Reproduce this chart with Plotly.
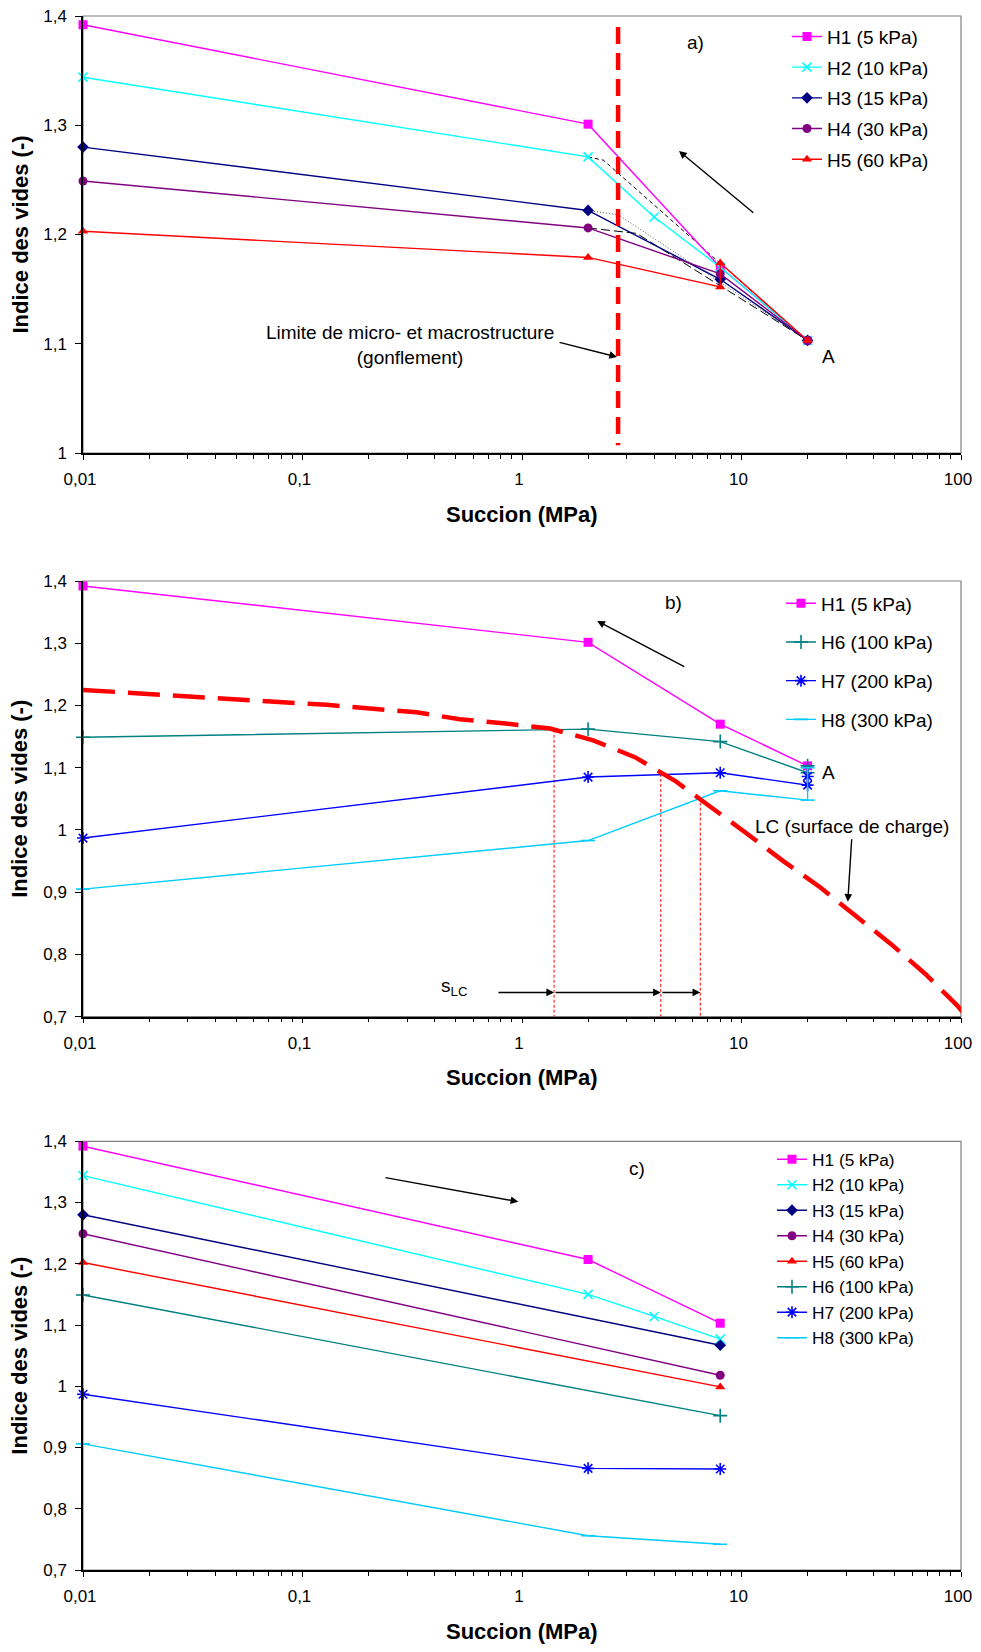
import numpy as np
import plotly.graph_objects as go

# ---------------- data ----------------
X_TICKS = [0.01, 0.1, 1, 10, 100]
X_TICK_LABELS = ["0,01", "0,1", "1", "10", "100"]
X_MINOR = [m * 10.0 ** e for e in range(-2, 2) for m in range(2, 10)]
Y_TICKS_A = [1.0, 1.1, 1.2, 1.3, 1.4]
Y_LABELS_A = ["1", "1,1", "1,2", "1,3", "1,4"]
Y_TICKS_BC = [0.7, 0.8, 0.9, 1.0, 1.1, 1.2, 1.3, 1.4]
Y_LABELS_BC = ["0,7", "0,8", "0,9", "1", "1,1", "1,2", "1,3", "1,4"]

NAMES = {
    "H1": "H1 (5 kPa)", "H2": "H2 (10 kPa)", "H3": "H3 (15 kPa)", "H4": "H4 (30 kPa)",
    "H5": "H5 (60 kPa)", "H6": "H6 (100 kPa)", "H7": "H7 (200 kPa)", "H8": "H8 (300 kPa)",
}

# panel a) wetting from point A
A_H1_x = [0.01, 2, 8, 20]
A_H1_y = [1.392, 1.301, 1.170, 1.103]
A_H2_x = [0.01, 2, 4, 8, 20]
A_H2_y = [1.344, 1.271, 1.216, 1.170, 1.103]
A_H3_x = [0.01, 2, 8, 20]
A_H3_y = [1.280, 1.222, 1.159, 1.103]
A_H4_x = [0.01, 2, 8, 20]
A_H4_y = [1.249, 1.206, 1.164, 1.103]
A_H5_x = [0.01, 2, 8, 8, 20]
A_H5_y = [1.203, 1.179, 1.152, 1.174, 1.103]
# auxiliary black guide paths (panel a)
GUIDE_SHORT_x = [2, 2.35, 20]
GUIDE_SHORT_y = [1.271, 1.268, 1.103]
GUIDE_DOT_x = [2, 2.75, 20]
GUIDE_DOT_y = [1.222, 1.218, 1.103]
GUIDE_LONG_x = [2, 3.33, 20]
GUIDE_LONG_y = [1.206, 1.201, 1.103]
# micro / macro limit
LIMIT_x = [2.74, 2.74]
LIMIT_y = [1.39, 1.007]

# panel b)
B_H1_x = [0.01, 2, 8, 20]
B_H1_y = [1.392, 1.3015, 1.170, 1.103]
B_H6_x = [0.01, 2, 8, 20, 20]
B_H6_y = [1.149, 1.162, 1.142, 1.092, 1.103]
B_H7_x = [0.01, 2, 8, 20, 20]
B_H7_y = [0.987, 1.085, 1.092, 1.072, 1.086]
B_H8_x = [0.01, 2, 8, 20, 20]
B_H8_y = [0.905, 0.983, 1.063, 1.048, 1.100]
LC_x = [0.01, 0.05, 0.129, 0.33, 0.52, 0.842, 1.34, 2.11, 3.27, 4.98, 7.36,
        10.6, 15.5, 22.8, 33.1, 47.9, 68.6, 95.5, 106]
LC_y = [1.225, 1.209, 1.201, 1.189, 1.178, 1.171, 1.163, 1.144, 1.117, 1.079, 1.036,
        0.994, 0.950, 0.908, 0.862, 0.817, 0.769, 0.719, 0.700]
SLC_x = [1.40, 4.29, 6.49]
SLC_top = [1.161, 1.090, 1.052]
SLC_start = 0.769
SLC_level = 0.739

# panel c) drying
C_H1_x = [0.01, 2, 8]
C_H1_y = [1.392, 1.207, 1.103]
C_H2_x = [0.01, 2, 4, 8]
C_H2_y = [1.344, 1.150, 1.114, 1.077]
C_H3_x = [0.01, 8]
C_H3_y = [1.280, 1.067]
C_H4_x = [0.01, 8]
C_H4_y = [1.249, 1.018]
C_H5_x = [0.01, 8]
C_H5_y = [1.202, 0.999]
C_H6_x = [0.01, 8]
C_H6_y = [1.149, 0.952]
C_H7_x = [0.01, 2, 8]
C_H7_y = [0.987, 0.866, 0.865]
C_H8_x = [0.01, 2, 8]
C_H8_y = [0.906, 0.756, 0.742]

# ---------------- styles ----------------
STYLE = {
    "H1": dict(color="#FF00FF", symbol="square", size=9, open=False),
    "H2": dict(color="#00FFFF", symbol="x-thin-open", size=9, open=True),
    "H3": dict(color="#000080", symbol="diamond", size=9, open=False),
    "H4": dict(color="#800080", symbol="circle", size=9, open=False),
    "H5": dict(color="#FF0000", symbol="triangle-up", size=9, open=False),
    "H6": dict(color="#008080", symbol="cross-thin-open", size=10, open=True),
    "H7": dict(color="#0000FF", symbol="asterisk-open", size=10, open=True),
    "H8": dict(color="#00CCFF", symbol="line-ew-open", size=10, open=True),
}
FONT = "Liberation Sans, Arial, sans-serif"

fig = go.Figure()


def series(key, x, y, ax, legend, gname=None):
    s = STYLE[key]
    marker = dict(color=s["color"], symbol=s["symbol"], size=s["size"])
    marker["line"] = dict(width=1.6 if s["open"] else 0, color=s["color"])
    kw = dict(legendgroup=gname) if gname else {}
    fig.add_trace(go.Scatter(
        x=x, y=y, mode="lines+markers", name=NAMES[key],
        line=dict(color=s["color"], width=1.4), marker=marker,
        xaxis="x" + ax, yaxis="y" + ax, legend=legend,
        cliponaxis=False, **kw
    ))


def plain(x, y, ax, color, width, dash):
    fig.add_trace(go.Scatter(
        x=x, y=y, mode="lines", showlegend=False, hoverinfo="skip",
        line=dict(color=color, width=width, dash=dash),
        xaxis="x" + ax, yaxis="y" + ax,
    ))


# panel a
plain(GUIDE_SHORT_x, GUIDE_SHORT_y, "", "black", 1, "4px,3px")
plain(GUIDE_DOT_x, GUIDE_DOT_y, "", "#555555", 1, "1px,2px")
plain(GUIDE_LONG_x, GUIDE_LONG_y, "", "black", 1, "9px,4px")
series("H1", A_H1_x, A_H1_y, "", "legend", "a1")
series("H2", A_H2_x, A_H2_y, "", "legend", "a2")
series("H3", A_H3_x, A_H3_y, "", "legend", "a3")
series("H4", A_H4_x, A_H4_y, "", "legend", "a4")
series("H5", A_H5_x, A_H5_y, "", "legend", "a5")
plain(LIMIT_x, LIMIT_y, "", "#FF0000", 4.5, "17px,9px")

# panel b
for sx, top in zip(SLC_x, SLC_top):
    plain([sx, sx], [top, 0.7], "2", "#FF0000", 1, "3px,2px")
series("H1", B_H1_x, B_H1_y, "2", "legend2", "b1")
series("H6", B_H6_x, B_H6_y, "2", "legend2", "b6")
series("H7", B_H7_x, B_H7_y, "2", "legend2", "b7")
series("H8", B_H8_x, B_H8_y, "2", "legend2", "b8")
plain(LC_x, LC_y, "2", "#FF0000", 4.5, "32px,13px")

# panel c
series("H1", C_H1_x, C_H1_y, "3", "legend3")
series("H2", C_H2_x, C_H2_y, "3", "legend3")
series("H3", C_H3_x, C_H3_y, "3", "legend3")
series("H4", C_H4_x, C_H4_y, "3", "legend3")
series("H5", C_H5_x, C_H5_y, "3", "legend3")
series("H6", C_H6_x, C_H6_y, "3", "legend3")
series("H7", C_H7_x, C_H7_y, "3", "legend3")
series("H8", C_H8_x, C_H8_y, "3", "legend3")

# ---------------- layout ----------------
# the page body adds an 8 px margin top/left
OFF = 8
W, H = 981 - OFF, 1652 - 2 * OFF


def px(v):
    return (v - OFF) / W


def py(v):
    return 1 - (v - OFF) / H


PX0, PX1 = 83, 961
PANELS = [(16, 453, [1.0, 1.4], Y_TICKS_A, Y_LABELS_A),
          (581, 1016.7, [0.7, 1.4], Y_TICKS_BC, Y_LABELS_BC),
          (1141.3, 1570, [0.7, 1.4], Y_TICKS_BC, Y_LABELS_BC)]

tickfont = dict(family=FONT, size=17, color="black")
layout = dict(width=W, height=H, margin=dict(l=0, r=0, t=0, b=0, autoexpand=False),
              paper_bgcolor="white", plot_bgcolor="white",
              font=dict(family=FONT, size=17, color="black"))
shapes = []
annotations = []
for i, (top, bot, yr, yt, yl) in enumerate(PANELS):
    sfx = "" if i == 0 else str(i + 1)
    layout["xaxis" + sfx] = dict(
        type="log", range=[-2, 2], domain=[px(PX0), px(PX1)], anchor="y" + sfx,
        automargin=False, ticklabeloverflow="allow", ticklabelshift=-3,
        showgrid=False, zeroline=False, showline=True, linecolor="black", linewidth=1.5,
        ticks="outside", ticklen=5, tickwidth=1, tickcolor="black",
        tickvals=X_TICKS, ticktext=X_TICK_LABELS, tickfont=tickfont, ticklabelstandoff=5,
        minor=dict(tickvals=X_MINOR, ticks="outside", ticklen=4, tickwidth=1,
                   tickcolor="black", showgrid=False),
    )
    layout["yaxis" + sfx] = dict(
        range=yr, domain=[py(bot), py(top)], anchor="x" + sfx,
        automargin=False, ticklabeloverflow="allow",
        showgrid=False, zeroline=False, showline=True, linecolor="black", linewidth=1.5,
        ticks="outside", ticklen=6, tickwidth=1, tickcolor="black",
        tickvals=yt, ticktext=yl, tickfont=tickfont, ticklabelstandoff=5,
    )
    shapes.append(dict(type="rect", xref="x" + sfx + " domain", yref="y" + sfx + " domain",
                       x0=0, x1=1, y0=0, y1=1, line=dict(color="#808080", width=1.2),
                       layer="below"))
    annotations.append(dict(text="<b>Indice des vides (-)</b>", xref="paper", yref="paper",
                            x=px(20), y=py((top + bot) / 2), textangle=-90,
                            xanchor="center", yanchor="middle",
                            showarrow=False, font=dict(family=FONT, size=22)))
    annotations.append(dict(text="<b>Succion (MPa)</b>", xref="paper", yref="paper",
                            x=px((PX0 + PX1) / 2), y=py(bot + 61),
                            xanchor="center", yanchor="middle",
                            showarrow=False, font=dict(family=FONT, size=22)))

lg = np.log10
afont = dict(family=FONT, size=19, color="black")


def text(ax, x, y, t, **kw):
    d = dict(text=t, xref="x" + ax, yref="y" + ax, x=lg(x), y=y, showarrow=False, font=afont)
    d.update(kw)
    annotations.append(d)


def arrow(ax, x0, y0, x1, y1):
    annotations.append(dict(text="", xref="x" + ax, yref="y" + ax, axref="x" + ax, ayref="y" + ax,
                            x=lg(x1), y=y1, ax=lg(x0), ay=y0, showarrow=True,
                            arrowhead=2, arrowsize=1.1, arrowwidth=1.4, arrowcolor="black"))


# panel a annotations
text("", 6.2, 1.376, "a)")
text("", 24.8, 1.088, "A")
text("", 0.309, 1.099, "Limite de micro- et macrostructure<br>(gonflement)")
arrow("", 11.5, 1.2188, 5.19, 1.2764)
arrow("", 1.46, 1.1016, 2.71, 1.0879)

# panel b annotations
text("2", 4.88, 1.366, "b)")
text("2", 24.8, 1.093, "A")
text("2", 31.8, 1.005, "LC (surface de charge)")
text("2", 0.495, 0.748, "s<sub>LC</sub>")
arrow("2", 5.57, 1.2613, 2.2, 1.3357)
arrow("2", 31.8, 0.9876, 30.5, 0.8847)
arrow("2", SLC_start, SLC_level, SLC_x[0], SLC_level)
arrow("2", SLC_x[0], SLC_level, SLC_x[1], SLC_level)
arrow("2", SLC_x[1], SLC_level, SLC_x[2], SLC_level)

# panel c annotations
text("3", 3.34, 1.355, "c)")
arrow("3", 0.235, 1.3412, 0.962, 1.3014)

legfont = dict(family=FONT, size=19, color="black")
layout["legend"] = dict(x=px(787), y=py(17.6), xanchor="left", yanchor="top",
                        font=legfont, bgcolor="rgba(0,0,0,0)", tracegroupgap=3, itemwidth=30)
layout["legend2"] = dict(x=px(781), y=py(584.4), xanchor="left", yanchor="top",
                         font=legfont, bgcolor="rgba(0,0,0,0)", tracegroupgap=11, itemwidth=30)
layout["legend3"] = dict(x=px(772), y=py(1141.5), xanchor="left", yanchor="top",
                         font=dict(family=FONT, size=17.3, color="black"),
                         bgcolor="rgba(0,0,0,0)", itemwidth=30)
layout["shapes"] = shapes
layout["annotations"] = annotations
fig.update_layout(**layout)

fig.write_html("out.html")
